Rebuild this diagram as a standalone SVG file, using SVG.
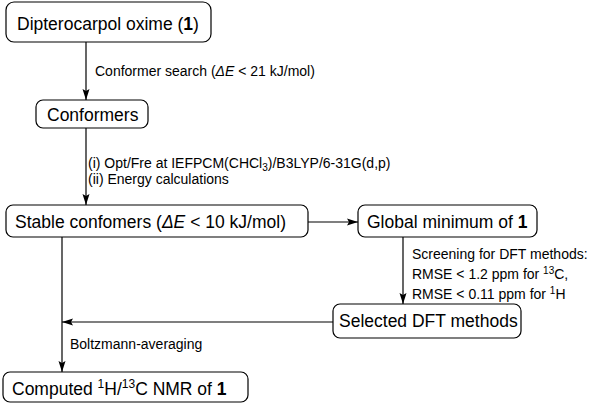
<svg xmlns="http://www.w3.org/2000/svg" width="591" height="405" viewBox="0 0 591 405">
<style>
.box{fill:#fff;stroke:#000;stroke-width:1.2}
.nt{font-family:"Liberation Sans",Arial,sans-serif;font-size:17.5px;fill:#000}
.lb{font-family:"Liberation Sans",Arial,sans-serif;font-size:14px;fill:#000}
.ln{stroke:#000;stroke-width:1.2;fill:none}
.b{font-weight:bold}
.i{font-style:italic}
</style>
<defs>
<marker id="ah" markerUnits="userSpaceOnUse" markerWidth="11" markerHeight="8" refX="11" refY="4" orient="auto">
<path d="M0,0.5 L11,4 L0,7.5 L2,4 z" fill="#000"/>
</marker>
</defs>
<g id="connectors">
<line class="ln" x1="86" y1="42" x2="86" y2="100" marker-end="url(#ah)"/>
<line class="ln" x1="86" y1="128" x2="86" y2="205" marker-end="url(#ah)"/>
<line class="ln" x1="308" y1="222" x2="358" y2="222" marker-end="url(#ah)"/>
<line class="ln" x1="403" y1="237" x2="403" y2="304" marker-end="url(#ah)"/>
<line class="ln" x1="333" y1="322" x2="62" y2="322" marker-end="url(#ah)"/>
<line class="ln" x1="62" y1="237" x2="62" y2="372" marker-end="url(#ah)"/>
<text class="lb" x="95" y="76">Conformer search (<tspan class="i">ΔE</tspan> &lt; 21 kJ/mol)</text>
<text class="lb" x="88" y="168">(i) Opt/Fre at IEFPCM(CHCl<tspan font-size="10" dy="3">3</tspan><tspan dy="-3">)/B3LYP/6-31G(d,p)</tspan></text>
<text class="lb" x="88" y="184">(ii) Energy calculations</text>
<text class="lb" x="412" y="259">Screening for DFT methods:</text>
<text class="lb" x="412" y="279">RMSE &lt; 1.2 ppm for <tspan font-size="10" dy="-5">13</tspan><tspan dy="5">C,</tspan></text>
<text class="lb" x="412" y="299">RMSE &lt; 0.11 ppm for <tspan font-size="10" dy="-5">1</tspan><tspan dy="5">H</tspan></text>
<text class="lb" x="70" y="349">Boltzmann-averaging</text>
</g>
<g id="n1">
<rect class="box" x="6" y="2" width="205" height="40" rx="8"/>
<text class="nt" x="17" y="30">Dipterocarpol oxime (<tspan class="b">1</tspan>)</text>
</g>
<g id="n2">
<rect class="box" x="36" y="100" width="112" height="28" rx="7"/>
<text class="nt" x="47" y="121">Conformers</text>
</g>
<g id="n3">
<rect class="box" x="6" y="205" width="302" height="32" rx="7"/>
<text class="nt" x="15" y="228">Stable confomers (<tspan class="i">ΔE</tspan> &lt; 10 kJ/mol)</text>
</g>
<g id="n4">
<rect class="box" x="358" y="205" width="179" height="32" rx="7"/>
<text class="nt" x="367" y="228">Global minimum of <tspan class="b">1</tspan></text>
</g>
<g id="n5">
<rect class="box" x="333" y="304" width="188" height="34" rx="7"/>
<text class="nt" x="339" y="327">Selected DFT methods</text>
</g>
<g id="n6">
<rect class="box" x="3" y="372" width="245" height="30" rx="7"/>
<text class="nt" x="12" y="395">Computed <tspan font-size="12" dy="-7">1</tspan><tspan dy="7">H/</tspan><tspan font-size="12" dy="-7">13</tspan><tspan dy="7">C NMR of </tspan><tspan class="b">1</tspan></text>
</g>
</svg>
